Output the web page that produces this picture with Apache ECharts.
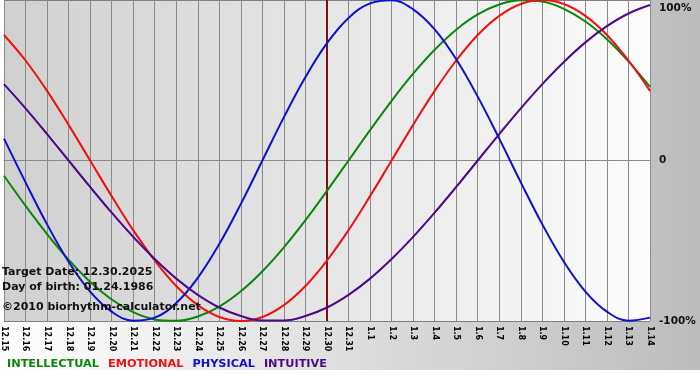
<!DOCTYPE html>
<html>
<head>
<meta charset="utf-8">
<script src="https://cdn.jsdelivr.net/npm/echarts@6/dist/echarts.min.js"></script>
<style>
  html, body { margin: 0; padding: 0; background: #fff; }
  #c {
    width: 700px; height: 380px;
    background:
      linear-gradient(#ffffff, #ffffff) 0 370px / 100% 10px no-repeat,
      linear-gradient(to right, #ffffff, #bcbcbc);
  }
</style>
</head>
<body>
<div id="c"></div>
<script>
// Day labels (month.day), 12.15.2025 – 1.14.2026
const dates = ['12.15','12.16','12.17','12.18','12.19','12.20','12.21','12.22','12.23','12.24',
  '12.25','12.26','12.27','12.28','12.29','12.30','12.31','1.1','1.2','1.3','1.4','1.5','1.6',
  '1.7','1.8','1.9','1.10','1.11','1.12','1.13','1.14'];

// Biorhythm values in percent, one per day
const intellectual = [-9.5, -28.2, -45.8, -61.8, -75.6, -86.6, -94.5, -99.0, -99.9, -97.2,
  -91.0, -81.5, -69.0, -54.1, -37.2, -18.9, 0, 18.9, 37.2, 54.1, 69.0, 81.5, 91.0, 97.2,
  99.9, 99.0, 94.5, 86.6, 75.6, 61.8, 45.8];
const emotional = [78.2, 62.3, 43.4, 22.2, 0, -22.2, -43.4, -62.3, -78.2, -90.1, -97.5,
  -100, -97.5, -90.1, -78.2, -62.3, -43.4, -22.2, 0, 22.2, 43.4, 62.3, 78.2, 90.1, 97.5,
  100, 97.5, 90.1, 78.2, 62.3, 43.4];
const physical = [13.6, -13.6, -39.8, -63.1, -81.7, -94.2, -99.8, -97.9, -88.8, -73.1,
  -52.0, -27.0, 0, 27.0, 52.0, 73.1, 88.8, 97.9, 99.8, 94.2, 81.7, 63.1, 39.8, 13.6,
  -13.6, -39.8, -63.1, -81.7, -94.2, -99.8, -97.9];
const intuitive = [47.6, 32.5, 16.5, 0, -16.5, -32.5, -47.6, -61.4, -73.6, -83.7, -91.6,
  -96.9, -99.7, -99.7, -96.9, -91.6, -83.7, -73.6, -61.4, -47.6, -32.5, -16.5, 0, 16.5,
  32.5, 47.6, 61.4, 73.6, 83.7, 91.6, 96.9];

const seriesNames = ['INTELLECTUAL', 'EMOTIONAL', 'PHYSICAL', 'INTUITIVE'];
const seriesColors = ['#0b860b', '#ee1111', '#1010cc', '#4b0a86'];
const seriesData = [intellectual, emotional, physical, intuitive];

const targetDate = '12.30';
const infoLines = ['Target Date: 12.30.2025', 'Day of birth: 01.24.1986', '\u00a92010 biorhythm-calculator.net'];
const yTickLabels = { '100': '100%', '0': '0', '-100': '-100%' };

const FONT = 'DejaVu Sans';
const chart = echarts.init(document.getElementById('c'), null, { renderer: 'canvas' });

const series = seriesNames.map((name, i) => ({
  name: name,
  type: 'line',
  data: seriesData[i],
  smooth: 0.4,
  showSymbol: false,
  symbol: 'none',
  lineStyle: { color: seriesColors[i], width: 2 },
  itemStyle: { color: seriesColors[i] },
  z: 3 + i
}));
series[0].markLine = {
  silent: true,
  symbol: ['none', 'none'],
  label: { show: false },
  lineStyle: { color: '#7a1212', width: 2, type: 'solid' },
  data: [{ xAxis: targetDate }],
  z: 2
};

chart.setOption({
  animation: false,
  backgroundColor: 'transparent',
  textStyle: { fontFamily: FONT },
  grid: {
    left: 0, top: -1, width: 650, height: 322,
    show: true,
    borderWidth: 0,
    backgroundColor: new echarts.graphic.LinearGradient(0, 0, 1, 0, [
      { offset: 0, color: '#d0d0d0' },
      { offset: 1, color: '#fcfcfc' }
    ])
  },
  legend: {
    left: -3, top: 354,
    icon: 'none',
    itemWidth: 0, itemHeight: 0,
    itemGap: 4,
    selectedMode: false,
    textStyle: { fontFamily: FONT, fontWeight: 'bold', fontSize: 11.3 },
    data: seriesNames.map((n, i) => ({ name: n, textStyle: { color: seriesColors[i] } }))
  },
  xAxis: {
    type: 'category',
    data: dates,
    boundaryGap: false,
    axisLine: { show: true, lineStyle: { color: '#8a8a8a', width: 1 } },
    axisTick: { show: true, length: 6, lineStyle: { color: '#8a8a8a' }, interval: 0 },
    splitLine: { show: true, interval: 0, lineStyle: { color: '#8a8a8a', width: 1 } },
    axisLabel: {
      interval: 0, rotate: -90, margin: 5,
      fontFamily: FONT, fontWeight: 'bold', fontSize: 8, color: '#000'
    }
  },
  yAxis: {
    type: 'value',
    position: 'right',
    min: -100, max: 100, interval: 100,
    axisLine: { show: false },
    axisTick: { show: false },
    splitLine: { show: true, lineStyle: { color: '#808080', width: 1 } },
    axisLabel: {
      margin: 9,
      fontFamily: FONT, fontWeight: 'bold', fontSize: 10.5, color: '#111',
      formatter: v => v === 100 ? '{top|' + yTickLabels[String(v)] + '}' : yTickLabels[String(v)],
      rich: {
        top: { fontFamily: FONT, fontWeight: 'bold', fontSize: 10.5, color: '#111', padding: [16, 0, 0, 0] }
      }
    }
  },
  graphic: infoLines.map((t, i) => ({
    type: 'text',
    left: 2,
    top: [267, 282, 302][i],
    z: 100,
    style: { text: t, font: 'bold 11px "' + FONT + '"', fill: '#111' }
  })),
  series: series
});
</script>
</body>
</html>
